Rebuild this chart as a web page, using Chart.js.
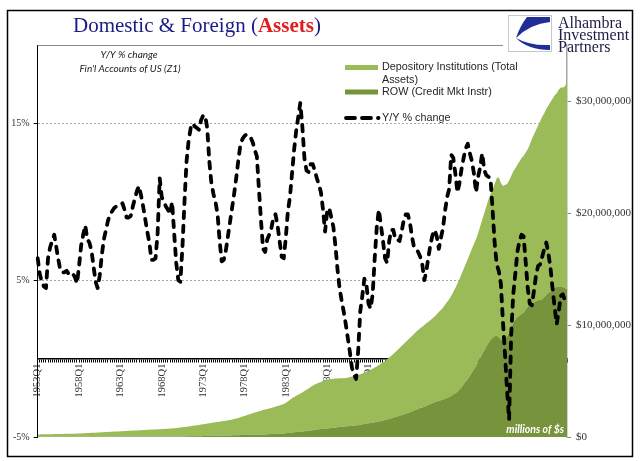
<!DOCTYPE html>
<html>
<head>
<meta charset="utf-8">
<script src="https://cdn.jsdelivr.net/npm/chart.js@4.4.0/dist/chart.umd.min.js"></script>
<style>
  html, body { margin: 0; padding: 0; background: #fff; }
  canvas { display: block; }
</style>
</head>
<body>
<canvas id="chart" width="641" height="461"></canvas>
<script>
// quarterly categories 1953Q1 .. 2017Q1
const firstYear = 1953;
const quarterCount = 257;
const labelEvery = 20; // one label every 5 years
const quarters = [];
for (let i = 0; i < quarterCount; i++) {
    quarters.push((firstYear + Math.floor(i / 4)) + 'Q' + (i % 4 + 1));
}

// Y/Y % change (left axis)
const yoyChange = [
    6.4, 5.4, 4.9, 4.6,      // 1953
    4.5, 6.4, 7.1, 7.5,      // 1954
    7.9, 7.1, 6.3, 5.6,      // 1955
    5.5, 5.5, 5.6, 5.4,      // 1956
    5.5, 5.4, 5.2, 4.8,      // 1957
    5.9, 7.2, 7.9, 8.5,      // 1958
    7.6, 7.4, 6.9, 5.9,      // 1959
    4.9, 4.5, 5.3, 6.6,      // 1960
    7.6, 8.2, 8.8, 9.2,      // 1961
    9.4, 9.6, 9.7, 9.8,      // 1962
    9.8, 9.9, 9.5, 9.0,      // 1963
    9.0, 9.1, 9.7, 10.2,     // 1964
    10.7, 11.0, 10.4, 9.7,   // 1965
    8.9, 8.1, 7.4, 6.3,      // 1966
    6.3, 6.4, 8.0, 11.5,     // 1967
    10.3, 10.0, 9.7, 9.5,    // 1968
    9.2, 10.0, 8.0, 6.1,     // 1969
    5.0, 4.9, 7.1, 10.0,     // 1970
    12.6, 13.9, 14.7, 15.0,  // 1971
    14.8, 14.7, 14.6, 15.2,  // 1972
    15.5, 15.5, 14.7, 12.6,  // 1973
    11.2, 10.5, 10.0, 9.2,   // 1974
    7.5, 6.2, 6.3, 6.9,      // 1975
    7.8, 8.7, 9.6, 10.5,     // 1976
    11.5, 12.6, 13.6, 14.0,  // 1977
    14.2, 14.3, 14.2, 14.1,  // 1978
    13.8, 13.3, 12.9, 10.8,  // 1979
    8.8, 7.0, 6.8, 7.6,      // 1980
    7.9, 8.3, 9.0, 9.2,      // 1981
    8.5, 7.5, 6.5, 6.4,      // 1982
    7.7, 9.4, 10.3, 11.8,    // 1983
    13.3, 14.5, 15.4, 16.3,  // 1984
    14.8, 12.8, 12.0, 11.9,  // 1985
    12.4, 12.4, 12.0, 11.5,  // 1986
    11.1, 10.6, 9.5, 8.1,    // 1987
    9.4, 9.6, 9.0, 8.4,      // 1988
    7.2, 5.7, 4.5, 3.7,      // 1989
    3.0, 2.2, 1.3, 0.4,      // 1990
    -0.6, -1.0, -1.3, 0.5,   // 1991
    3.0, 4.0, 5.1, 4.7,      // 1992
    3.5, 3.2, 4.1, 6.4,      // 1993
    8.4, 9.5, 8.5, 7.5,      // 1994
    6.4, 6.1, 7.5, 8.2,      // 1995
    8.2, 7.6, 7.6, 7.5,      // 1996
    8.1, 8.8, 9.2, 9.2,      // 1997
    8.7, 7.8, 7.1, 7.0,      // 1998
    6.8, 6.5, 6.0, 5.0,      // 1999
    5.6, 6.5, 7.3, 7.9,      // 2000
    8.2, 7.8, 7.0, 7.7,      // 2001
    8.3, 9.4, 10.3, 10.8,    // 2002
    13.0, 12.8, 11.8, 10.6,  // 2003
    11.2, 12.1, 12.8, 13.4,  // 2004
    13.7, 13.1, 12.6, 11.8,  // 2005
    10.6, 11.6, 12.2, 13.1,  // 2006
    12.0, 11.7, 11.6, 11.5,  // 2007
    9.5, 7.4, 6.0, 5.6,      // 2008
    4.8, 2.4, 0.3, -2.0,     // 2009
    -3.9, 1.5, 4.1, 5.4,     // 2010
    6.8, 7.5, 7.9, 7.8,      // 2011
    6.2, 4.5, 3.5, 3.4,      // 2012
    4.3, 5.3, 5.9, 6.0,      // 2013
    6.5, 7.0, 7.4, 6.7,      // 2014
    5.8, 4.5, 3.3, 2.2,      // 2015
    3.0, 4.0, 4.1, 3.7,      // 2016
    3.5                      // 2017
];

// ROW credit market instruments, $ trillions (right axis is in $ millions)
const rowCredit = [
    0.02, 0.02, 0.02, 0.02,  0.02, 0.02, 0.02, 0.02,  0.02, 0.02, 0.02, 0.02,  0.02, 0.02, 0.02, 0.02,  0.02, 0.02, 0.02, 0.02, // 1953-57
    0.03, 0.03, 0.03, 0.03,  0.03, 0.03, 0.03, 0.03,  0.03, 0.03, 0.03, 0.03,  0.03, 0.03, 0.03, 0.03,  0.03, 0.03, 0.03, 0.03, // 1958-62
    0.04, 0.04, 0.04, 0.04,  0.04, 0.04, 0.04, 0.04,  0.04, 0.04, 0.04, 0.04,  0.04, 0.04, 0.04, 0.04,  0.04, 0.04, 0.04, 0.04, // 1963-67
    0.05, 0.05, 0.05, 0.05,  0.05, 0.05, 0.05, 0.05,  0.05, 0.05, 0.05, 0.05,  0.06, 0.06, 0.06, 0.06,  0.07, 0.07, 0.07, 0.07, // 1968-72
    0.08, 0.08, 0.09, 0.09,  0.10, 0.10, 0.11, 0.11,  0.12, 0.12, 0.13, 0.13,  0.14, 0.14, 0.15, 0.15,  0.16, 0.16, 0.17, 0.17, // 1973-77
    0.18, 0.19, 0.19, 0.20,  0.20, 0.21, 0.21, 0.22,  0.22, 0.23, 0.23, 0.24,  0.25, 0.26, 0.27, 0.28,  0.29, 0.30, 0.31, 0.32, // 1978-82
    0.34, 0.36, 0.38, 0.40,  0.42, 0.44, 0.46, 0.48,  0.50, 0.52, 0.54, 0.56,  0.58, 0.61, 0.64, 0.67,  0.69, 0.71, 0.73, 0.75, // 1983-87
    0.77, 0.79, 0.81, 0.83,  0.85, 0.87, 0.89, 0.91,  0.93, 0.95, 0.97, 0.99,  1.01, 1.03, 1.05, 1.06,  1.10, 1.13, 1.16, 1.19, // 1988-92
    1.22, 1.25, 1.28, 1.31,  1.35, 1.39, 1.43, 1.47,  1.52, 1.57, 1.62, 1.67,  1.72, 1.78, 1.84, 1.90,  1.96, 2.02, 2.08, 2.14, // 1993-97
    2.20, 2.28, 2.36, 2.44,  2.50, 2.58, 2.64, 2.70,  2.78, 2.86, 2.94, 3.02,  3.10, 3.16, 3.22, 3.28,  3.34, 3.42, 3.50, 3.58, // 1998-02
    3.66, 3.75, 3.90, 4.05,  4.25, 4.45, 4.70, 4.95,  5.15, 5.45, 5.75, 6.05,  6.35, 6.70, 7.05, 7.40,  7.75, 8.10, 8.40, 8.65, // 2003-07
    8.85, 9.00, 9.07, 8.90,  8.70, 8.60, 8.80, 9.00,  9.30, 9.80, 10.20, 10.50,  10.70, 10.85, 11.00, 11.10,  11.40, 11.60, 11.80, 11.95, // 2008-12
    12.05, 12.15, 12.20, 12.25,  12.30, 12.50, 12.70, 12.85,  13.00, 13.15, 13.30, 13.40,  13.40, 13.45, 13.40, 13.30, // 2013-16
    13.20 // 2017
];

// Depository institutions total assets, $ trillions, stacked on top of ROW
const depositoryAssets = [
    0.21, 0.21, 0.22, 0.22,  0.22, 0.23, 0.23, 0.23,  0.24, 0.24, 0.24, 0.25,  0.25, 0.26, 0.26, 0.27,  0.27, 0.28, 0.28, 0.29, // 1953-57
    0.28, 0.29, 0.30, 0.31,  0.32, 0.33, 0.34, 0.35,  0.36, 0.37, 0.38, 0.39,  0.40, 0.41, 0.42, 0.43,  0.44, 0.45, 0.46, 0.47, // 1958-62
    0.47, 0.48, 0.49, 0.50,  0.51, 0.52, 0.53, 0.54,  0.55, 0.56, 0.57, 0.58,  0.59, 0.60, 0.61, 0.62,  0.63, 0.64, 0.65, 0.66, // 1963-67
    0.66, 0.67, 0.68, 0.69,  0.70, 0.72, 0.74, 0.76,  0.78, 0.80, 0.82, 0.84,  0.85, 0.88, 0.91, 0.94,  0.95, 0.98, 1.01, 1.04, // 1968-72
    1.06, 1.09, 1.11, 1.14,  1.16, 1.19, 1.21, 1.24,  1.25, 1.28, 1.30, 1.33,  1.35, 1.38, 1.41, 1.45,  1.49, 1.54, 1.59, 1.65, // 1973-77
    1.70, 1.75, 1.81, 1.86,  1.92, 1.97, 2.03, 2.08,  2.13, 2.17, 2.22, 2.26,  2.30, 2.34, 2.38, 2.42,  2.47, 2.52, 2.57, 2.63, // 1978-82
    2.71, 2.82, 2.94, 3.06,  3.16, 3.24, 3.32, 3.40,  3.48, 3.58, 3.68, 3.78,  3.88, 3.97, 4.04, 4.10,  4.16, 4.21, 4.27, 4.33, // 1983-87
    4.36, 4.37, 4.37, 4.37,  4.37, 4.36, 4.35, 4.34,  4.32, 4.32, 4.33, 4.36,  4.39, 4.42, 4.45, 4.49,  4.50, 4.55, 4.60, 4.65, // 1988-92
    4.68, 4.75, 4.82, 4.89,  4.95, 5.03, 5.12, 5.21,  5.28, 5.38, 5.48, 5.58,  5.68, 5.80, 5.92, 6.04,  6.16, 6.28, 6.40, 6.52, // 1993-97
    6.64, 6.74, 6.84, 6.96,  7.05, 7.12, 7.21, 7.30,  7.37, 7.44, 7.51, 7.58,  7.65, 7.79, 7.93, 8.07,  8.21, 8.38, 8.55, 8.72, // 1998-02
    8.94, 9.20, 9.40, 9.65,  9.85, 10.10, 10.30, 10.50,  10.75, 10.90, 11.05, 11.20,  11.30, 11.50, 11.75, 12.00,  12.25, 12.50, 12.80, 13.05, // 2003-07
    13.25, 13.60, 14.03, 14.30,  14.00, 13.80, 13.70, 13.60,  13.60, 13.50, 13.50, 13.50,  13.60, 13.75, 13.90, 14.00,  14.00, 14.10, 14.30, 14.65, // 2008-12
    14.95, 15.25, 15.60, 15.95,  16.30, 16.40, 16.60, 16.75,  16.90, 17.05, 17.20, 17.30,  17.60, 17.75, 17.80, 18.00, // 2013-16
    18.60 // 2017
];

const leftTicks = [-5, 5, 15];
const leftTickLabels = ['-5%', '5%', '15%'];
const rightTicks = [0, 10, 20, 30];
const rightTickLabels = ['$0', '$10,000,000', '$20,000,000', '$30,000,000'];

const lightGreen = '#9bbb59';
const darkGreen = '#77933c';

const decorations = {
    id: 'decorations',
    afterDraw(chart) {
        const ctx = chart.ctx;
        const area = chart.chartArea;
        ctx.save();

        // outer frame
        ctx.strokeStyle = '#000';
        ctx.lineWidth = 1.5;
        ctx.strokeRect(7.5, 10.5, 625, 446);

        // top edge of the plot area, stops at the logo
        ctx.strokeStyle = '#8c8c8c';
        ctx.lineWidth = 1;
        ctx.beginPath();
        ctx.moveTo(area.left, Math.round(area.top) + 0.5);
        ctx.lineTo(503, Math.round(area.top) + 0.5);
        ctx.stroke();

        // title
        ctx.textAlign = 'left';
        ctx.textBaseline = 'alphabetic';
        let x = 73;
        const titleParts = [
            ['Domestic & Foreign (', 'normal', '#1b1b86'],
            ['Assets', 'bold', '#e31b1b'],
            [')', 'normal', '#1b1b86']
        ];
        for (const [text, weight, color] of titleParts) {
            ctx.font = weight + ' 21px "Liberation Serif"';
            ctx.fillStyle = color;
            ctx.fillText(text, x, 32);
            x += ctx.measureText(text).width;
        }

        // note under the title
        ctx.font = 'italic 10px Lato';
        ctx.fillStyle = '#1a1a1a';
        ctx.textAlign = 'center';
        ctx.fillText('Y/Y % change', 129, 58);
        ctx.fillText("Fin'l Accounts of US (Z1)", 130, 71.5);

        // legend
        const ds = chart.data.datasets;
        ctx.textAlign = 'left';
        ctx.textBaseline = 'middle';
        ctx.font = '10.8px "Liberation Sans"';
        ctx.fillStyle = ds[2].backgroundColor;
        ctx.fillRect(345, 65, 33, 5);
        ctx.fillStyle = '#262626';
        ctx.fillText('Depository Institutions (Total', 382, 67);
        ctx.fillText('Assets)', 382, 80);
        ctx.fillStyle = ds[1].backgroundColor;
        ctx.fillRect(345, 89.5, 33, 5);
        ctx.fillStyle = '#262626';
        ctx.fillText(ds[1].label, 382, 92);
        ctx.strokeStyle = '#000';
        ctx.lineWidth = 3.8;
        ctx.lineCap = 'round';
        ctx.beginPath();
        ctx.moveTo(346, 118); ctx.lineTo(355, 118);
        ctx.moveTo(362, 118); ctx.lineTo(371, 118);
        ctx.moveTo(378, 118); ctx.lineTo(378.5, 118);
        ctx.stroke();
        ctx.fillText(ds[0].label, 382, 118);

        // unit note
        ctx.font = 'italic bold 10.5px Lato';
        ctx.fillStyle = '#fff';
        ctx.textAlign = 'right';
        ctx.textBaseline = 'alphabetic';
        ctx.fillText('millions of $s', 564, 433);

        // logo
        ctx.fillStyle = '#fff';
        ctx.fillRect(508.5, 15.5, 43, 36);
        ctx.strokeStyle = '#c8c8c8';
        ctx.lineWidth = 1;
        ctx.strokeRect(508.5, 15.5, 43, 36);
        ctx.fillStyle = '#1f2f96';
        ctx.beginPath();
        ctx.moveTo(527, 17);
        ctx.lineTo(550, 17);
        ctx.lineTo(550, 22);
        ctx.quadraticCurveTo(530, 24, 516, 38);
        ctx.quadraticCurveTo(520, 26, 527, 17);
        ctx.closePath();
        ctx.fill();
        ctx.beginPath();
        ctx.moveTo(516, 38);
        ctx.quadraticCurveTo(528, 50, 550, 50);
        ctx.lineTo(550, 45);
        ctx.quadraticCurveTo(530, 46, 516, 38);
        ctx.closePath();
        ctx.fill();

        ctx.font = '16px "Liberation Serif"';
        ctx.fillStyle = '#1c1c44';
        ctx.textAlign = 'left';
        ctx.fillText('Alhambra', 558, 28);
        ctx.fillText('Investment', 558, 40);
        ctx.fillText('Partners', 558, 51.5);

        ctx.restore();
    }
};

new Chart(document.getElementById('chart'), {
    type: 'line',
    data: {
        labels: quarters,
        datasets: [
            {
                label: 'Y/Y % change',
                data: yoyChange,
                yAxisID: 'y',
                borderColor: '#000',
                borderWidth: 3.8,
                borderDash: [6.5, 7.5],
                borderCapStyle: 'round',
                borderJoinStyle: 'round',
                pointRadius: 0,
                fill: false,
                tension: 0
            },
            {
                label: 'ROW (Credit Mkt Instr)',
                data: rowCredit,
                yAxisID: 'y2',
                backgroundColor: darkGreen,
                borderColor: 'rgba(0,0,0,0)',
                borderWidth: 0,
                pointRadius: 0,
                fill: 'origin',
                tension: 0
            },
            {
                label: 'Depository Institutions (Total Assets)',
                data: depositoryAssets,
                yAxisID: 'y2',
                backgroundColor: lightGreen,
                borderColor: 'rgba(0,0,0,0)',
                borderWidth: 0,
                pointRadius: 0,
                fill: '-1',
                tension: 0
            }
        ]
    },
    options: {
        responsive: false,
        animation: false,
        events: [],
        layout: { padding: { left: 0, right: 8, top: 45, bottom: 24 } },
        plugins: {
            legend: { display: false },
            tooltip: { enabled: false }
        },
        scales: {
            x: {
                type: 'category',
                position: { y: 0 },
                offset: false,
                grid: { display: true, drawOnChartArea: false, drawTicks: true, tickLength: 3, tickColor: '#000', tickWidth: 1 },
                border: { display: true, color: '#000', width: 1.5 },
                ticks: {
                    autoSkip: false,
                    minRotation: 90,
                    maxRotation: 90,
                    padding: 2,
                    color: '#333',
                    font: { family: 'Liberation Serif', size: 10.5 },
                    callback: (v, i) => i % labelEvery === 0 ? quarters[i] : ''
                }
            },
            y: {
                type: 'linear',
                position: 'left',
                min: -5,
                max: 20,
                afterBuildTicks: s => { s.ticks = leftTicks.map(v => ({ value: v })); },
                afterFit: s => { s.width = 37.7; },
                grid: {
                    color: c => (c.tick && c.tick.value === leftTicks[0]) ? 'rgba(0,0,0,0)' : '#a6a6a6',
                    lineWidth: 1,
                    tickLength: 4,
                    tickColor: '#000'
                },
                border: { display: true, color: '#000', width: 1, dash: [2, 2] },
                ticks: {
                    padding: 4,
                    color: '#333',
                    font: { family: 'Liberation Serif', size: 10 },
                    callback: v => leftTickLabels[leftTicks.indexOf(v)]
                }
            },
            y2: {
                type: 'linear',
                position: 'right',
                min: 0,
                max: 35,
                stacked: true,
                afterBuildTicks: s => { s.ticks = rightTicks.map(v => ({ value: v })); },
                afterFit: s => { s.width = 66; },
                grid: { drawOnChartArea: false, tickLength: 4, tickColor: '#8c8c8c' },
                border: { display: true, color: '#a6a6a6', width: 1.5 },
                ticks: {
                    padding: 5,
                    color: '#333',
                    font: { family: 'Liberation Serif', size: 11 },
                    callback: v => rightTickLabels[rightTicks.indexOf(v)]
                }
            }
        }
    },
    plugins: [decorations]
});
</script>
</body>
</html>
